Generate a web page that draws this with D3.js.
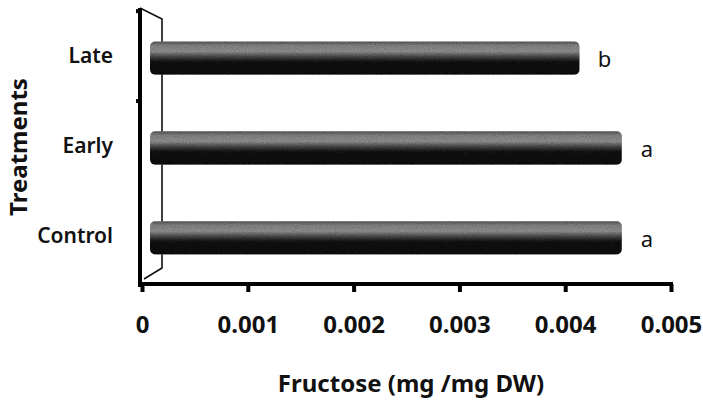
<!DOCTYPE html>
<html>
<head>
<meta charset="utf-8">
<script src="https://cdn.jsdelivr.net/npm/d3@7"></script>
<style>
  body { margin: 0; background: #fff; }
  svg { display: block; }
  text { font-family: "Noto Sans", "Open Sans", sans-serif; fill: #111; }
</style>
</head>
<body>
<svg id="chart" width="703" height="405"></svg>
<script>
// Data
let treatments = ["Control", "Early", "Late"]
let fructose = [0.00446, 0.00446, 0.00406]
let letters = ["a", "a", "b"]
let ticks = [0, 0.001, 0.002, 0.003, 0.004, 0.005]

// Layout
let svg = d3.select("#chart")
let plotL = 140, plotR = 671, plotT = 8, plotB = 284
let depth = 22, barShift = 8

let x = d3.scaleLinear().domain([0, 0.005]).range([plotL + 2, plotR])
let y = d3.scaleBand().domain(treatments.slice().reverse()).range([plotT, plotB])
  .paddingInner(0.63).paddingOuter(0.35)

// Cylinder gradient
let defs = svg.append("defs")
let grad = defs.append("linearGradient").attr("id", "cyl")
  .attr("x1", 0).attr("y1", 0).attr("x2", 0).attr("y2", 1)
grad.selectAll("stop").data([
  [0, "#5a5a5a"], [0.12, "#8c8c8c"], [0.3, "#9a9a9a"], [0.45, "#505050"],
  [0.6, "#161616"], [1, "#080808"]
]).join("stop").attr("offset", d => d[0]).attr("stop-color", d => d[1])

let noise = defs.append("filter").attr("id", "grain")
noise.append("feTurbulence").attr("type", "fractalNoise").attr("baseFrequency", 0.9)
  .attr("numOctaves", 2).attr("result", "n")
noise.append("feColorMatrix").attr("in", "n").attr("type", "saturate").attr("values", 0).attr("result", "g")
noise.append("feComposite").attr("in", "g").attr("in2", "SourceGraphic").attr("operator", "in").attr("result", "gm")
noise.append("feBlend").attr("in", "SourceGraphic").attr("in2", "gm").attr("mode", "multiply")

// Back wall (3D depth)
let wall = d3.path()
wall.moveTo(plotL, plotT)
wall.lineTo(plotL + depth, plotT + 11)
wall.lineTo(plotL + depth, plotB - 16)
wall.lineTo(plotL + 4, plotB - 5)
svg.append("path").attr("d", wall.toString())
  .attr("fill", "none").attr("stroke", "#111").attr("stroke-width", 1.6)

// Bars
svg.append("g").selectAll("rect").data(treatments).join("rect")
  .attr("x", x(0) + barShift)
  .attr("y", d => y(d) + 2)
  .attr("width", (d, i) => x(fructose[i]) - x(0))
  .attr("height", y.bandwidth())
  .attr("rx", 5).attr("ry", 5)
  .attr("fill", "url(#cyl)")
  .attr("filter", "url(#grain)")

// Significance letters
svg.append("g").selectAll("text").data(treatments).join("text")
  .attr("x", (d, i) => x(fructose[i]) + barShift + 25)
  .attr("y", d => y(d) + 2 + y.bandwidth() / 2)
  .attr("dy", "0.4em")
  .attr("text-anchor", "middle")
  .style("font-size", "22px")
  .text((d, i) => letters[i])

// Axes
let xAxis = svg.append("g").attr("transform", `translate(0,${plotB})`)
  .call(d3.axisBottom(x).tickValues(ticks).tickSize(8).tickPadding(24)
    .tickFormat(d => d === 0 ? "0" : d3.format(".3f")(d)))
xAxis.select(".domain").attr("d", `M${plotL},0H${plotR + 2}`)
  .attr("stroke", "#000").attr("stroke-width", 4)
xAxis.selectAll(".tick line").attr("stroke", "#000").attr("stroke-width", 4)
xAxis.selectAll(".tick text").style("font-size", "24px").style("font-weight", "bold")
  .style("font-family", "'Noto Sans', sans-serif").attr("fill", "#111")

let yAxis = svg.append("g").attr("transform", `translate(${plotL},0)`)
  .call(d3.axisLeft(y).tickSize(0).tickPadding(27))
yAxis.select(".domain").attr("d", `M0,${plotT}V${plotB + 3}`)
  .attr("stroke", "#000").attr("stroke-width", 4)
yAxis.selectAll(".tick text").style("font-size", "21px").style("font-weight", 600)
  .style("font-family", "'Noto Sans', sans-serif").attr("fill", "#111")
  .attr("dy", "0.35em")
// category boundaries on the y axis
let edges = treatments.slice(1).map(d => y(d) - y.step() * y.paddingInner() / 2)
yAxis.selectAll(".edge").data(edges).join("line").attr("class", "edge")
  .attr("x1", -4).attr("x2", 0).attr("y1", d => d).attr("y2", d => d)
  .attr("stroke", "#000").attr("stroke-width", 4)

// Axis titles
svg.append("text").attr("x", 411).attr("y", 392).attr("text-anchor", "middle")
  .style("font-size", "24px").style("font-weight", "bold")
  .text("Fructose (mg /mg DW)")
svg.append("text").attr("transform", "translate(27,147) rotate(-90)")
  .attr("text-anchor", "middle")
  .style("font-size", "24px").style("font-weight", "bold")
  .text("Treatments")
</script>
</body>
</html>
